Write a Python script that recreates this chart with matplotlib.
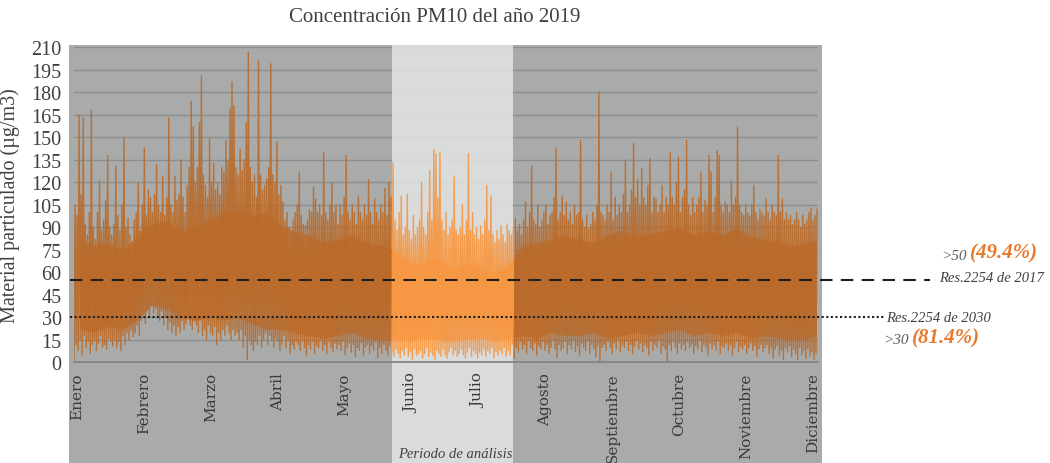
"""PM10 hourly concentration 2019 - recreated chart."""
import matplotlib
matplotlib.use("Agg")
import matplotlib.pyplot as plt
import numpy as np

# --- data ---
months = ["Enero", "Febrero", "Marzo", "Abril", "Mayo", "Junio", "Julio",
          "Agosto", "Septiembre", "Octubre", "Noviembre", "Diciembre"]

# daily peak values (µg/m3), day 0 = 1 Jan
day_hi = [
    105, 98, 165, 112, 163, 92, 85, 100, 168, 90,
    82, 100, 121, 88, 95, 108, 138, 90, 85, 92,
    131, 98, 88, 105, 150, 90, 96, 85, 80, 95,
    100, 120, 88, 105, 143, 98, 115, 110, 100, 112,
    132, 105, 100, 124, 98, 110, 163, 105, 100, 124,
    108, 112, 135, 110, 100, 118, 130, 174, 157, 120,
    130, 160, 191, 125, 118, 110, 149, 120, 133, 115,
    120, 112, 130, 127, 148, 135, 169, 187, 171, 130,
    125, 142, 128, 135, 160, 207, 130, 120, 125, 110,
    201, 125, 115, 118, 122, 130, 199, 125, 120, 147,
    112, 118, 107, 95, 100, 90, 87, 95, 100, 105,
    127, 98, 92, 91, 95, 102, 100, 117, 109, 100,
    105, 98, 140, 100, 95, 105, 120, 100, 105, 92,
    105, 98, 110, 138, 100, 95, 105, 100, 92, 111,
    100, 95, 105, 98, 122, 100, 92, 109, 100, 95,
    105, 100, 116, 98, 120, 110, 133, 95, 88, 100,
    111, 85, 90, 112, 88, 82, 98, 85, 90, 95,
    120, 90, 85, 100, 128, 95, 142, 139, 110, 140,
    95, 88, 100, 85, 90, 95, 124, 88, 85, 90,
    105, 85, 95, 139, 88, 100, 85, 90, 82, 91,
    85, 95, 118, 88, 111, 85, 80, 88, 82, 91,
    85, 80, 92, 88, 85, 90, 96, 88, 92, 85,
    95, 107, 90, 100, 131, 95, 92, 105, 90, 95,
    100, 105, 92, 98, 100, 110, 143, 95, 100, 111,
    98, 107, 95, 100, 92, 105, 98, 100, 148, 95,
    90, 98, 89, 92, 100, 95, 105, 180, 100, 98,
    95, 105, 100, 127, 95, 110, 98, 105, 100, 112,
    135, 100, 105, 115, 146, 110, 122, 105, 129, 110,
    105, 118, 136, 100, 110, 109, 100, 105, 118, 100,
    110, 105, 140, 110, 105, 120, 137, 100, 110, 115,
    148, 105, 98, 110, 100, 105, 110, 127, 100, 108,
    105, 138, 127, 100, 110, 141, 138, 105, 100, 107,
    105, 100, 121, 105, 110, 157, 105, 100, 98, 105,
    100, 98, 105, 118, 100, 95, 102, 100, 98, 109,
    100, 95, 105, 100, 98, 138, 100, 109, 95, 100,
    95, 98, 92, 95, 100, 95, 90, 98, 92, 95,
    100, 103, 95, 98, 102,
]

# daily minimum values (µg/m3)
day_lo = [
    2, 12, 8, 15, 5, 18, 10, 14, 6, 12,
    15, 8, 13, 18, 10, 12, 9, 16, 14, 11,
    15, 10, 14, 8, 18, 12, 20, 15, 22, 17,
    20, 25, 18, 28, 32, 26, 35, 30, 38, 33,
    36, 30, 28, 34, 25, 30, 22, 27, 20, 25,
    18, 24, 20, 28, 22, 26, 30, 25, 22, 28,
    25, 20, 28, 18, 22, 15, 25, 20, 18, 24,
    12, 20, 15, 22, 18, 25, 20, 15, 22, 18,
    20, 15, 22, 10, 18, 2, 15, 12, 8, 14,
    12, 18, 10, 15, 20, 12, 18, 15, 10, 16,
    14, 8, 12, 18, 10, 15, 6, 12, 9, 14,
    12, 8, 15, 10, 5, 12, 9, 14, 6, 11,
    10, 15, 8, 12, 6, 14, 10, 7, 13, 9,
    12, 8, 14, 5, 10, 13, 7, 12, 4, 10,
    8, 13, 5, 10, 12, 6, 11, 8, 14, 3,
    10, 6, 12, 8, 5, 11, 7, 4, 9, 6,
    3, 8, 5, 10, 4, 7, 2, 9, 5, 6,
    8, 3, 6, 10, 4, 7, 5, 2, 8, 6,
    4, 9, 5, 3, 7, 10, 5, 8, 4, 6,
    9, 5, 3, 7, 10, 4, 8, 6, 3, 7,
    5, 9, 4, 8, 6, 10, 3, 7, 5, 8,
    6, 10, 4, 8, 5, 12, 3, 10, 7, 14,
    9, 12, 6, 15, 10, 8, 13, 5, 11, 9,
    14, 8, 12, 6, 10, 15, 9, 3, 12, 8,
    10, 14, 6, 12, 9, 15, 7, 11, 5, 13,
    10, 8, 14, 6, 12, 9, 4, 11, 1, 10,
    12, 8, 14, 10, 6, 13, 9, 15, 7, 12,
    10, 14, 8, 12, 6, 11, 15, 9, 13, 7,
    12, 10, 5, 14, 8, 12, 10, 15, 6, 11,
    9, 1, 12, 8, 14, 10, 6, 13, 9, 12,
    8, 14, 10, 12, 6, 11, 9, 15, 7, 12,
    10, 5, 13, 9, 12, 8, 14, 6, 11, 10,
    13, 8, 12, 5, 10, 14, 7, 11, 9, 12,
    6, 10, 13, 8, 11, 4, 9, 12, 7, 10,
    12, 6, 10, 3, 9, 11, 5, 8, 2, 10,
    7, 11, 4, 9, 6, 2, 10, 5, 8, 3,
    9, 4, 7, 2, 6,
]

# weekly dense "body" of the hourly series
week_top = [82, 78, 80, 75, 85,
            92, 95, 88, 90,
            95, 100, 102, 98, 100,
            92, 88, 85, 80,
            82, 85, 80, 78,
            75,
            68, 65, 70, 62, 66, 64, 60, 65,
            78, 80, 82, 85,
            82, 80, 85, 88, 84,
            86, 88, 90, 85,
            88, 85, 90, 84,
            82, 80, 78, 80, 82]
week_bottom = [22, 20, 24, 22, 28,
               38, 36, 30, 28,
               30, 28, 30, 26, 22,
               22, 20, 18, 16,
               18, 20, 16, 15,
               15,
               14, 16, 15, 14, 15, 16, 14, 15,
               18, 16, 20, 18,
               18, 20, 16, 18, 20,
               18, 20, 22, 18,
               20, 18, 20, 16,
               18, 16, 15, 16, 18]

limit_2017 = 55
limit_2030 = 30
band_days = (156, 215.4)   # periodo de análisis (Jun-Jul)

BROWN = "#bb6a28"
ORANGE = "#f7963f"
GRAY_BG = "#a9abab"
BAND_BG = "#e2e2e2"
PCT_COLOR = "#e8792b"
SERIF = "Liberation Serif"

fig = plt.figure(figsize=(10.5, 4.64), dpi=100)
ax = fig.add_axes([0.0705, 0.2166, 0.7086, 0.6793])
ax.set_facecolor("none")

days = np.arange(len(day_hi))
hi = np.array(day_hi, dtype=float)
lo = np.array(day_lo, dtype=float)
wk_x = np.arange(len(week_top)) * 7 + 3
wk_x[-1] = len(days) - 1

# background panels (extend below the axis, behind the month labels)
ax.axvspan(-2.45, 367.0, ymin=-0.319, ymax=1.0073, color=GRAY_BG,
           zorder=0, clip_on=False, lw=0)
for v in range(15, 211, 15):
    ax.axhline(v, color="#8c8e8e", lw=1, zorder=0.5)
ax.axvspan(*band_days, ymin=-0.319, ymax=1.0073, color=BAND_BG, alpha=0.88,
           zorder=1, clip_on=False, lw=0)

segments = [(0, 156, BROWN), (156, 216, ORANGE), (216, len(days), BROWN)]
for a, b, col in segments:
    d = days[a:b]
    wsel = (wk_x >= a - 7) & (wk_x <= b + 6)
    fill = ax.fill_between(wk_x[wsel], np.array(week_bottom)[wsel],
                           np.array(week_top)[wsel], color=col, alpha=0.7,
                           lw=0, zorder=2)
    clip = plt.Rectangle((a, 0), b - a, 210, transform=ax.transData)
    fill.set_clip_path(clip)
    xs = np.column_stack([d, d + 0.5]).ravel()
    ys = np.column_stack([lo[a:b], hi[a:b]]).ravel()
    ax.plot(xs, ys, color=col, lw=1.0, alpha=0.9, zorder=2.2)

# regulation limits
ax.plot([-2, 420], [limit_2017] * 2, color="#1e1e1e", lw=1.5,
        dashes=(6, 4), zorder=4, clip_on=False)
ax.plot([-2, 398], [limit_2030] * 2, color="#1e1e1e", lw=1.5,
        dashes=(1, 1.2), zorder=4, clip_on=False)

ax.set_xlim(0, 365)
ax.set_ylim(0, 210)
ax.set_yticks(range(0, 211, 15))
for s in ["top", "right", "left"]:
    ax.spines[s].set_visible(False)
ax.spines["bottom"].set_color("#7f7f7f")
ax.spines["bottom"].set_linewidth(1.2)
ax.tick_params(axis="y", length=0, pad=9, labelsize=14.5, labelcolor="#404040")
ax.tick_params(axis="x", length=0, pad=7)
for lab in ax.get_yticklabels():
    lab.set_family(SERIF)

ax.set_xticks(np.linspace(1.5, 362.5, 12))
ax.set_xticklabels(months, rotation=90, va="top", ha="center",
                   family="DejaVu Serif", fontsize=11, color="#3a3a3a")

ax.set_ylabel("Material particulado (µg/m3)", family=SERIF, fontsize=14.5,
              color="#404040", labelpad=8)
fig.text(435 / 1050, 1 - 17 / 464, "Concentración PM10 del año 2019",
         family=SERIF, fontsize=15, color="#404040", ha="center", va="center")
fig.text(455 / 1050, 1 - 455 / 464, "Periodo de análisis", family=SERIF,
         style="italic", fontsize=10.5, color="#404040", ha="center", va="center")

# right-hand annotations
fig.text(967 / 1050, 1 - 256 / 464, ">50", family=SERIF, style="italic",
         fontsize=11, color="#5a5a5a", ha="right", va="center")
fig.text(970 / 1050, 1 - 253 / 464, "(49.4%)", family=SERIF, style="italic",
         weight="bold", fontsize=15, color=PCT_COLOR, ha="left", va="center")
fig.text(1044 / 1050, 1 - 278 / 464, "Res.2254 de 2017", family=SERIF,
         style="italic", fontsize=10.5, color="#404040", ha="right", va="center")
fig.text(886 / 1050, 1 - 319 / 464, "Res.2254 de 2030", family=SERIF,
         style="italic", fontsize=10.5, color="#404040", ha="left", va="center")
fig.text(909 / 1050, 1 - 341 / 464, ">30", family=SERIF, style="italic",
         fontsize=11, color="#5a5a5a", ha="right", va="center")
fig.text(912 / 1050, 1 - 338 / 464, "(81.4%)", family=SERIF, style="italic",
         weight="bold", fontsize=15, color=PCT_COLOR, ha="left", va="center")

fig.savefig("out.png", dpi=100, facecolor="white")
